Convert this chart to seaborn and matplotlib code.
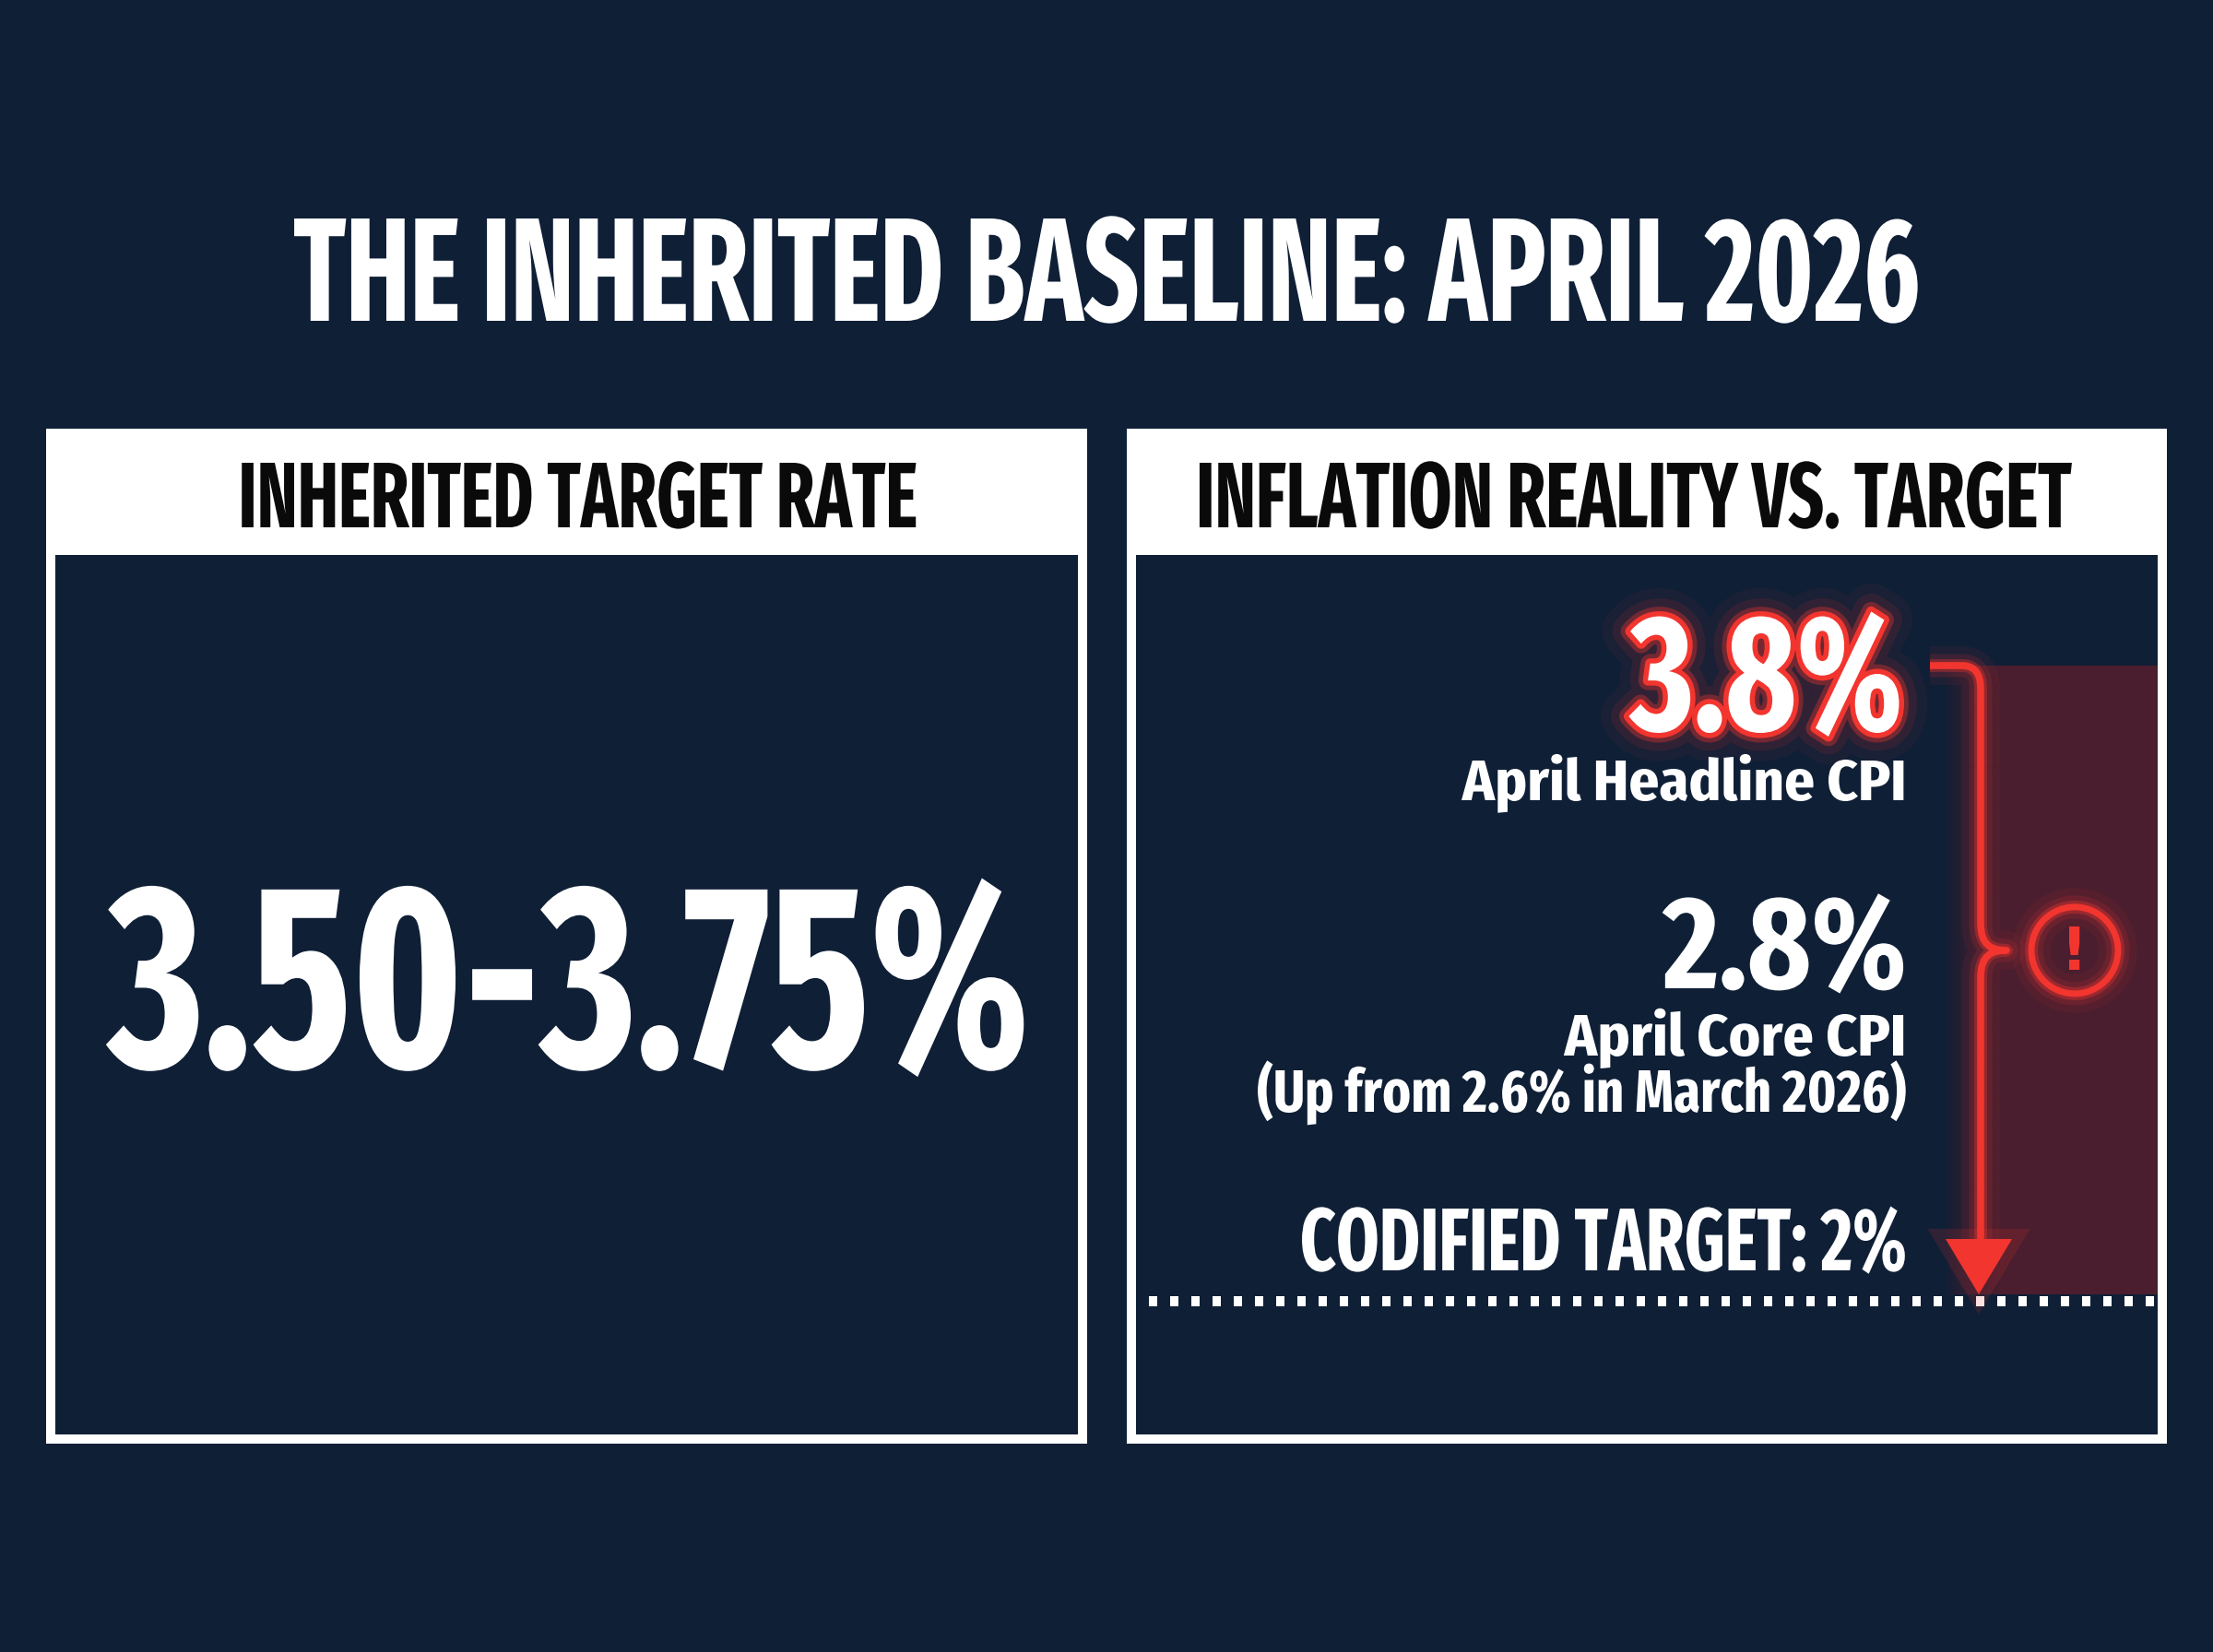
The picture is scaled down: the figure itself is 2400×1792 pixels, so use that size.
import numpy as np
import matplotlib
matplotlib.use("Agg")
import matplotlib.pyplot as plt
import matplotlib.patheffects as pe
from matplotlib import font_manager
from matplotlib.patches import Rectangle, Circle, PathPatch, Polygon
from matplotlib.path import Path
from matplotlib.textpath import TextPath
from matplotlib.transforms import Affine2D
import seaborn as sns

# ##############################################################################
# data
# ##############################################################################

title = "THE INHERITED BASELINE: APRIL 2026"
panel_titles = ["INHERITED TARGET RATE", "INFLATION REALITY VS. TARGET"]
rate_range = [3.50, 3.75]
cpi_labels = ["April Headline CPI", "April Core CPI"]
cpi_values = [3.8, 2.8]
core_prev = 2.6
core_prev_month = "March 2026"
target = 2.0

BG = "#0f1f36"
RED = "#f2352f"
SHADE = "#4a1e2e"
WHITE = "#ffffff"

sns.set_theme(style="dark", rc={"figure.facecolor": BG, "axes.facecolor": BG,
                                "savefig.facecolor": BG})


# pick a bold condensed face if one is installed
def pick_font():
    best = None
    for f in font_manager.fontManager.ttflist:
        p = f.fname.lower()
        n = f.name.lower()
        if f.style != "normal" or "italic" in p:
            continue
        tag = (p + " " + n + " " + str(f.stretch)).replace("-", "").replace(" ", "")
        if "extracondensed" in tag:
            rank = 0
        elif "semicondensed" in tag:
            rank = 2
        elif "condensed" in tag:
            rank = 1
        elif "narrow" in tag:
            rank = 3
        else:
            continue
        w = f.weight if isinstance(f.weight, int) else font_manager.weight_dict.get(f.weight, 400)
        score = rank * 100 + abs(w - 700)
        if best is None or score < best[0]:
            best = (score, f.fname)
    if best is None:
        return font_manager.FontProperties(family="DejaVu Sans", weight="bold")
    return font_manager.FontProperties(fname=best[1])


FP = pick_font()


class Tall(pe.AbstractPathEffect):
    """stretch the glyphs upward from the baseline, then hand over to another effect"""

    def __init__(self, inner, sy, y0):
        super().__init__()
        self.inner, self.sy, self.y0 = inner, sy, y0

    def draw_path(self, renderer, gc, tpath, affine, rgbFace=None):
        aff = affine + Affine2D().translate(0, -self.y0).scale(1, self.sy).translate(0, self.y0)
        self.inner.draw_path(renderer, gc, tpath, aff, rgbFace)


DPI = 100
fig = plt.figure(figsize=(24, 17.92), dpi=DPI)
ax = fig.add_axes([0, 0, 1, 1])
ax.set_xlim(0, 2400)
ax.set_ylim(1792, 0)
ax.axis("off")
fig.canvas.draw()
renderer = fig.canvas.get_renderer()

# cap height of the face in pixels for a 100 pt size
CAP100 = TextPath((0, 0), "H", size=100, prop=FP).get_extents().height * DPI / 72


def fit_text(x, y, s, width, cap, ha="center", color=WHITE, effects=None, z=5):
    # size the text to the measured width, then stretch it to the measured cap height
    t = ax.text(x, y, s, ha=ha, va="baseline", color=color, fontproperties=FP,
                fontsize=100, zorder=z)
    w100 = t.get_window_extent(renderer).width
    size = 100 * width / w100
    t.set_fontsize(size)
    sy = cap / (CAP100 * size / 100)
    y0 = ax.transData.transform((0, y))[1]
    t.set_path_effects([Tall(e, sy, y0) for e in (effects or [pe.Normal()])])
    return t


# title
fit_text(1199, 348, title, 1763, 111)

# panels: outer white box, white header band, dark inner area
panels = [(50, 1179), (1222, 2350)]
head_x = [627, 1772]
head_w = [736, 949]
for (x0, x1), name, hx, hw in zip(panels, panel_titles, head_x, head_w):
    ax.add_patch(Rectangle((x0, 465), x1 - x0, 1566 - 465, facecolor=WHITE,
                           edgecolor="none", zorder=1))
    ax.add_patch(Rectangle((x0 + 10, 602), x1 - x0 - 20, 1556 - 602, facecolor=BG,
                           edgecolor="none", zorder=2))
    fit_text(hx, 572, name, hw, 70, color="#0a0a0a")

# left: inherited range
fit_text(617, 1157, f"{rate_range[0]:.2f}-{rate_range[1]:.2f}%", 1000, 197)

# right: value scale for the bracket (headline at the top, target on the dotted line)
y_top, y_tgt = 722, 1404


def y_of(v):
    return y_tgt + (v - target) * (y_top - y_tgt) / (cpi_values[0] - target)


# red shaded band with a soft left edge
band = np.linspace(0, 1, 60)[None, :] ** 0.7
rgba = np.zeros((1, 60, 4))
rgba[..., :3] = matplotlib.colors.to_rgb(SHADE)
rgba[..., 3] = band
ax.imshow(rgba, extent=(2110, 2170, y_of(target), y_of(cpi_values[0])), aspect="auto",
          zorder=3, interpolation="bilinear")
ax.add_patch(Rectangle((2170, y_of(cpi_values[0])), 2340 - 2170,
                       y_of(target) - y_of(cpi_values[0]), facecolor=SHADE,
                       edgecolor="none", zorder=3))

# target dotted line
xs = np.arange(1246, 2336, 23)
for xd in xs:
    ax.add_patch(Rectangle((xd, y_of(target) + 2), 9, 11, facecolor=WHITE,
                           edgecolor="none", zorder=6))

glow = [pe.Stroke(linewidth=30, foreground=RED, alpha=0.07),
        pe.Stroke(linewidth=18, foreground=RED, alpha=0.14),
        pe.Stroke(linewidth=10, foreground=RED, alpha=0.35),
        pe.Normal()]

# bracket from headline to target
xb = 2148
ym = y_of(cpi_values[1]) - 70
yt = y_of(cpi_values[0])
ya = y_of(target) - 60
verts = [(2093, yt), (2128, yt), (xb, yt), (xb, yt + 25),
         (xb, ym - 30),
         (xb, ym - 5), (2160, ym), (2176, ym),
         (2160, ym), (xb, ym + 5), (xb, ym + 30),
         (xb, ya)]
codes = [Path.MOVETO, Path.LINETO, Path.CURVE3, Path.CURVE3,
         Path.LINETO,
         Path.CURVE4, Path.CURVE4, Path.CURVE4,
         Path.CURVE4, Path.CURVE4, Path.CURVE4,
         Path.LINETO]
ax.add_patch(PathPatch(Path(verts, codes), facecolor="none", edgecolor=RED, lw=5.5,
                       capstyle="butt", joinstyle="round", zorder=7, path_effects=glow))
ax.add_patch(Polygon([(2110, ya), (2182, ya), (2146, y_of(target))], closed=True,
                     facecolor=RED, edgecolor="none", zorder=7,
                     path_effects=[pe.Stroke(linewidth=16, foreground=RED, alpha=0.15),
                                   pe.Normal()]))

# warning sign
ax.add_patch(Circle((2250, ym), 47, facecolor="none", edgecolor=RED, lw=5, zorder=7,
                    path_effects=glow))
ax.text(2250, ym + 3, "!", ha="center", va="center", color=RED, fontsize=46,
        fontweight="bold", family="DejaVu Sans", zorder=7)

# right-hand numbers
red_fx = [pe.Stroke(linewidth=44, foreground=RED, alpha=0.05),
          pe.Stroke(linewidth=28, foreground=RED, alpha=0.10),
          pe.Stroke(linewidth=15, foreground=RED, alpha=0.35),
          pe.Stroke(linewidth=8, foreground=RED),
          pe.Normal()]
fit_text(2064, 792, f"{cpi_values[0]:.1f}%", 296, 124, ha="right", effects=red_fx)
fit_text(2068, 868, cpi_labels[0], 482, 43, ha="right")
fit_text(2068, 1072, f"{cpi_values[1]:.1f}%", 264, 99, ha="right")
fit_text(2068, 1145, cpi_labels[1], 371, 44, ha="right")
fit_text(2068, 1206, f"(Up from {core_prev:.1f}% in {core_prev_month})", 704, 45, ha="right")
fit_text(2068, 1378, f"CODIFIED TARGET: {target:.0f}%", 658, 67, ha="right")

fig.savefig("out.png", dpi=DPI, facecolor=BG)
